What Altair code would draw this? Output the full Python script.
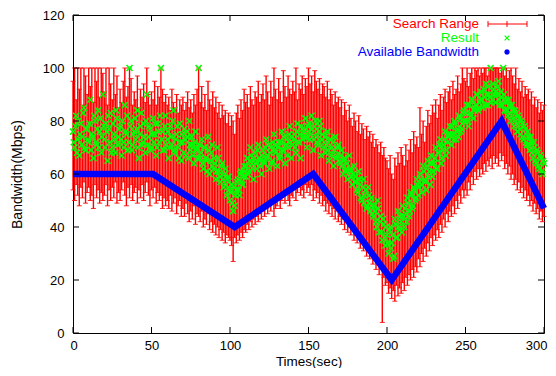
import altair as alt
import pandas as pd

FONT = "Liberation Sans"

times = list(range(301))

result = [
    76, 70, 82, 73, 67, 79, 74, 85, 69, 77,
    72, 88, 75, 66, 80, 71, 84, 76, 68, 90,
    73, 79, 65, 77, 83, 70, 75, 68, 81, 74,
    78, 67, 72, 86, 75, 69, 100, 80, 71, 76,
    73, 84, 66, 78, 71, 79, 68, 90, 74, 77,
    70, 81, 75, 67, 79, 72, 100, 76, 69, 82,
    73, 66, 78, 71, 84, 68, 75, 70, 79, 65,
    72, 77, 67, 74, 80, 69, 71, 64, 76, 70,
    100, 66, 73, 62, 70, 65, 74, 60, 68, 63,
    66, 58, 70, 61, 57, 64, 55, 62, 52, 59,
    50, 56, 46, 48, 54, 58, 52, 61, 56, 63,
    59, 66, 61, 70, 64, 58, 68, 62, 71, 65,
    60, 69, 64, 73, 67, 62, 70, 65, 75, 68,
    63, 72, 67, 76, 69, 64, 73, 70, 78, 66,
    71, 75, 68, 79, 72, 66, 77, 74, 81, 70,
    76, 73, 82, 69, 78, 74, 71, 80, 67, 75,
    72, 68, 76, 65, 73, 70, 63, 74, 67, 71,
    64, 69, 60, 66, 62, 58, 67, 61, 56, 63,
    59, 54, 61, 56, 50, 58, 52, 47, 55, 49,
    51, 45, 48, 42, 50, 38, 44, 35, 41, 33,
    37, 30, 40, 34, 28, 43, 36, 46, 39, 42,
    48, 40, 45, 51, 44, 53, 47, 55, 50, 58,
    52, 60, 56, 63, 58, 54, 65, 61, 67, 59,
    64, 70, 62, 68, 73, 66, 71, 76, 69, 74,
    78, 71, 75, 80, 73, 77, 82, 76, 79, 84,
    80, 86, 78, 83, 88, 81, 85, 90, 84, 87,
    91, 85, 89, 94, 86, 90, 100, 88, 92, 87,
    90, 95, 86, 89, 100, 84, 88, 82, 86, 80,
    84, 78, 83, 76, 81, 75, 79, 73, 77, 71,
    74, 69, 72, 66, 70, 64, 68, 62, 66, 60,
    64,
]

# results sampled half a second later
times_half = [t + 0.5 for t in range(300)]
result_half = [
    72, 78, 68, 80, 75, 71, 83, 70, 77, 73,
    79, 69, 74, 82, 72, 77, 70, 81, 74, 78,
    70, 76, 82, 72, 68, 79, 73, 84, 71, 77,
    73, 80, 70, 76, 82, 72, 78, 69, 75, 81,
    77, 70, 75, 83, 72, 74, 80, 71, 78, 69,
    75, 72, 79, 70, 76, 82, 73, 69, 78, 71,
    76, 70, 74, 80, 69, 73, 78, 66, 72, 75,
    68, 73, 76, 66, 71, 74, 67, 72, 69, 66,
    71, 68, 64, 70, 66, 61, 69, 65, 71, 62,
    64, 61, 66, 59, 63, 58, 60, 56, 58, 54,
    53, 49, 55, 52, 57, 54, 60, 57, 59, 61,
    63, 60, 65, 67, 62, 66, 64, 69, 66, 63,
    67, 65, 70, 66, 71, 68, 64, 72, 69, 71,
    70, 66, 72, 69, 74, 71, 67, 75, 72, 74,
    73, 70, 76, 72, 75, 78, 73, 76, 74, 78,
    79, 75, 77, 73, 80, 72, 76, 78, 73, 70,
    74, 71, 69, 73, 67, 72, 69, 66, 70, 65,
    67, 63, 65, 61, 64, 60, 62, 59, 60, 57,
    57, 53, 58, 51, 55, 49, 54, 48, 52, 46,
    48, 44, 46, 40, 47, 42, 38, 43, 36, 40,
    34, 39, 32, 37, 29, 41, 36, 40, 44, 38,
    44, 47, 42, 49, 46, 52, 48, 54, 51, 56,
    55, 58, 53, 61, 57, 63, 59, 56, 64, 61,
    66, 62, 68, 71, 64, 69, 73, 67, 72, 75,
    75, 78, 73, 79, 76, 74, 81, 77, 83, 80,
    83, 80, 86, 82, 88, 84, 86, 90, 85, 88,
    88, 92, 86, 90, 93, 89, 87, 94, 90, 91,
    93, 88, 91, 86, 90, 87, 84, 88, 83, 86,
    81, 84, 79, 82, 77, 80, 74, 78, 72, 76,
    71, 74, 68, 72, 65, 69, 63, 67, 61, 65,
]

low = [
    54, 50, 56, 52, 48, 55, 51, 57, 49, 53,
    55, 50, 52, 47, 56, 51, 54, 49, 53, 50,
    52, 56, 48, 54, 50, 55, 51, 57, 49, 53,
    50, 54, 57, 52, 48, 55, 51, 56, 50, 53,
    55, 49, 54, 51, 56, 50, 53, 57, 52, 48,
    54, 51, 55, 49, 53, 50, 52, 47, 51, 48,
    50, 47, 52, 46, 49, 51, 45, 48, 50, 44,
    47, 44, 49, 45, 42, 46, 43, 48, 41, 45,
    44, 42, 46, 40, 43, 41, 45, 39, 42, 38,
    41, 37, 40, 36, 39, 35, 38, 34, 37, 36,
    35, 33, 27, 36, 34, 37, 35, 38, 36, 39,
    38, 41, 39, 42, 40, 43, 41, 44, 42, 45,
    43, 46, 44, 47, 45, 48, 46, 49, 44, 47,
    48, 51, 47, 50, 52, 49, 53, 50, 48, 52,
    51, 54, 50, 53, 55, 52, 54, 51, 56, 53,
    55, 52, 56, 50, 54, 51, 53, 49, 52, 48,
    50, 46, 49, 45, 48, 44, 47, 43, 46, 42,
    44, 41, 43, 39, 42, 38, 40, 37, 39, 35,
    37, 34, 36, 32, 35, 31, 33, 29, 32, 28,
    30, 26, 28, 24, 27, 22, 25, 4, 21, 18,
    19, 15, 17, 13, 16, 12, 18, 14, 17, 15,
    19, 16, 21, 18, 22, 20, 24, 21, 25, 23,
    28, 25, 30, 27, 32, 29, 34, 31, 36, 33,
    37, 35, 39, 36, 41, 38, 43, 40, 45, 42,
    46, 44, 48, 45, 50, 47, 52, 49, 54, 51,
    54, 52, 57, 54, 59, 56, 61, 58, 62, 59,
    62, 60, 64, 61, 65, 63, 66, 62, 67, 64,
    66, 63, 68, 65, 67, 62, 64, 60, 63, 58,
    60, 56, 58, 54, 57, 53, 55, 51, 54, 50,
    52, 48, 50, 46, 49, 45, 47, 43, 46, 42,
    44,
]

high = [
    95, 100, 88, 100, 92, 100, 86, 100, 97, 90,
    100, 93, 100, 87, 100, 95, 100, 89, 100, 98,
    91, 100, 86, 100, 94, 88, 100, 90, 97, 85,
    92, 87, 95, 100, 89, 93, 100, 96, 86, 91,
    88, 97, 85, 92, 89, 94, 87, 100, 90, 86,
    91, 88, 95, 86, 93, 89, 100, 92, 87, 90,
    86, 89, 84, 92, 87, 85, 90, 83, 88, 86,
    89, 84, 87, 91, 85, 88, 83, 90, 86, 92,
    100, 87, 93, 85, 90, 84, 95, 88, 86, 91,
    85, 89, 83, 87, 81, 86, 82, 84, 79, 83,
    78, 82, 80, 75, 83, 86, 81, 88, 84, 92,
    87, 90, 85, 93, 88, 86, 91, 89, 95, 87,
    90, 94, 88, 97, 91, 86, 95, 89, 100, 92,
    88, 96, 91, 87, 99, 93, 89, 97, 92, 90,
    95, 91, 100, 88, 94, 92, 97, 90, 96, 93,
    100, 94, 97, 91, 99, 95, 92, 96, 90, 94,
    93, 89, 95, 88, 92, 90, 86, 91, 87, 89,
    85, 88, 82, 87, 84, 80, 86, 81, 78, 83,
    80, 76, 82, 75, 79, 77, 73, 78, 74, 76,
    72, 75, 70, 73, 71, 68, 72, 67, 70, 66,
    65, 62, 67, 60, 58, 66, 63, 68, 64, 70,
    67, 63, 71, 65, 69, 73, 68, 76, 71, 74,
    70, 85, 75, 80, 72, 78, 84, 79, 82, 86,
    83, 88, 81, 86, 90, 84, 89, 92, 87, 91,
    93, 88, 95, 90, 92, 97, 91, 94, 100, 96,
    95, 100, 93, 98, 100, 96, 100, 99, 100, 97,
    100, 98, 100, 100, 97, 100, 100, 99, 100, 100,
    100, 100, 98, 100, 100, 97, 100, 96, 99, 100,
    97, 94, 100, 92, 96, 91, 95, 89, 93, 90,
    92, 88, 91, 86, 89, 85, 88, 83, 87, 84,
    86,
]

bw_times = [0, 51, 103, 153, 203, 273, 300]
bw_values = [60, 60, 40, 60, 20, 80, 47]

x_ticks = [0, 50, 100, 150, 200, 250, 300]
y_ticks = [0, 20, 40, 60, 80, 100, 120]

legend_labels = ["Search Range", "Result", "Available Bandwidth"]

W, H = 471, 318

df = pd.DataFrame({"t": times, "low": low, "high": high, "result": result})
res_df = pd.DataFrame({
    "t": times + times_half,
    "result": result + result_half,
})
bw_df = pd.DataFrame({"bt": bw_times, "bv": bw_values})
xt_df = pd.DataFrame({"xt": x_ticks})
yt_df = pd.DataFrame({"yt": y_ticks})
one = pd.DataFrame({"a": [0]})

xs = alt.Scale(domain=[0, 300], nice=False, zero=False)
ys = alt.Scale(domain=[0, 120], nice=False, zero=False)

x_axis = alt.Axis(
    values=x_ticks, title="Times(sec)", grid=False, domain=False, ticks=False,
    labelPadding=6, labelFlush=True, labelFlushOffset=3, labelFont=FONT, labelFontSize=13,
    labelColor="black", titleFont=FONT, titleFontSize=13.5, titleFontWeight="normal",
    titleColor="black", titlePadding=2,
)
y_axis = alt.Axis(
    values=y_ticks, title="Bandwidth(Mbps)", grid=False, domain=False, ticks=False,
    labelPadding=9, labelFlush=False, labelFont=FONT, labelFontSize=13,
    labelColor="black", titleFont=FONT, titleFontSize=14, titleFontWeight="normal",
    titleColor="black", titlePadding=18,
)


def X(field):
    return alt.X(field, type="quantitative", scale=xs, axis=x_axis, title="Times(sec)")


def Y(field):
    return alt.Y(field, type="quantitative", scale=ys, axis=y_axis, title="Bandwidth(Mbps)")


bars = alt.Chart(df).mark_rule(color="#ff0000", strokeWidth=1.4).encode(
    x=X("t"), y=Y("low"), y2="high",
)

caps = alt.Chart(df).transform_fold(["low", "high"], as_=["end", "val"]).mark_tick(
    orient="horizontal", size=5, thickness=1, color="#ff0000", opacity=0.85
).encode(x=X("t"), y=Y("val"))

CROSS = "M-1,-1L1,1M1,-1L-1,1"
STAR = "M-1,0L1,0M0,-1L0,1M-0.7,-0.7L0.7,0.7M0.7,-0.7L-0.7,0.7"

res = alt.Chart(res_df).mark_point(
    shape=CROSS, size=36, filled=False, color="#00ff00", strokeWidth=1.6, opacity=1
).encode(x=X("t"), y=Y("result"))

bw = alt.Chart(bw_df).mark_line(color="#0000ff", strokeWidth=6.5, strokeJoin="miter").encode(
    x=X("bt"), y=Y("bv"),
)

tick_style = dict(color="black", strokeWidth=1)
xt_bottom = alt.Chart(xt_df).mark_rule(**tick_style).encode(
    x=X("xt"), y=alt.value(H), y2=alt.value(H - 6))
xt_top = alt.Chart(xt_df).mark_rule(**tick_style).encode(
    x=X("xt"), y=alt.value(0), y2=alt.value(6))
yt_left = alt.Chart(yt_df).mark_rule(**tick_style).encode(
    y=Y("yt"), x=alt.value(0), x2=alt.value(6))
yt_right = alt.Chart(yt_df).mark_rule(**tick_style).encode(
    y=Y("yt"), x=alt.value(W), x2=alt.value(W - 6))

# legend (gnuplot style: text right-aligned, sample to its right)
colors = ["#ff0000", "#00ff00", "#0000ff"]
rows_y = [9, 23, 37]
text_x = 406
legend = []
for lab, col, yy in zip(legend_labels, colors, rows_y):
    legend.append(
        alt.Chart(one).mark_text(
            align="right", baseline="middle", font=FONT, fontSize=13.5, color=col
        ).encode(x=alt.value(text_x), y=alt.value(yy), text=alt.value(lab))
    )
legend.append(alt.Chart(one).mark_rule(color="#ff0000", strokeWidth=1).encode(
    x=alt.value(415), x2=alt.value(454), y=alt.value(rows_y[0])))
for xx in [415, 434, 454]:
    legend.append(alt.Chart(one).mark_rule(color="#ff0000", strokeWidth=1).encode(
        x=alt.value(xx), y=alt.value(rows_y[0] - 3), y2=alt.value(rows_y[0] + 3)))
legend.append(alt.Chart(one).mark_point(
    shape=CROSS, size=22, filled=False, color="#00ff00", strokeWidth=1.2, opacity=1
).encode(x=alt.value(434), y=alt.value(rows_y[1])))
legend.append(alt.Chart(one).mark_point(
    shape=STAR, size=30, filled=False, color="#0000ff", strokeWidth=1.5, opacity=1
).encode(x=alt.value(434), y=alt.value(rows_y[2])))

chart = alt.layer(
    bars, caps, res, bw, xt_bottom, xt_top, yt_left, yt_right, *legend
).properties(
    width=W, height=H,
    padding={"left": 65, "top": 7, "right": 4, "bottom": 35},
    autosize=alt.AutoSizeParams(type="none"),
).configure_view(stroke="black", strokeWidth=1)

chart.save("out.html", embed_options={"renderer": "svg", "actions": False})
